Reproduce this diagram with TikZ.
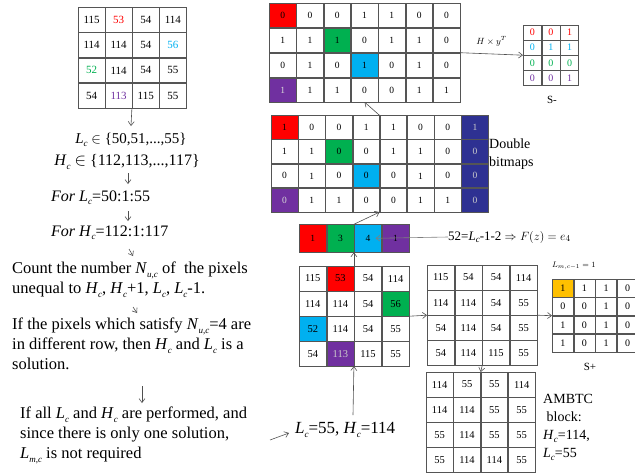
\documentclass[tikz,border=0pt]{standalone}
\usepackage{fontspec}
\setmainfont{Liberation Serif}
\usetikzlibrary{matrix,arrows.meta}
\definecolor{cred}{RGB}{255,0,0}
\definecolor{cgreen}{RGB}{0,176,80}
\definecolor{cblue}{RGB}{0,176,240}
\definecolor{cpurple}{RGB}{112,48,160}
\definecolor{cnavy}{RGB}{46,49,146}
\definecolor{corange}{RGB}{255,192,0}
\definecolor{gridc}{RGB}{85,85,85}
\definecolor{arrc}{RGB}{80,80,80}
\newcommand\vsub[1]{\raisebox{-0.45ex}{\fontsize{9}{9}\selectfont\itshape #1}}
\newcommand\Vv[2]{\textit{#1}\vsub{#2}}
\begin{document}
\begin{tikzpicture}[x=1pt,y=-1pt,
  cellgrid/.style={matrix of nodes, inner sep=0pt, outer sep=0pt, column sep=0pt, row sep=0pt,
    nodes={draw=gridc, line width=0.6pt, inner sep=0pt, outer sep=0pt, anchor=center}},
  arr/.style={draw=arrc, line width=0.6pt, -{Straight Barb[length=4pt,width=6pt]}},
  txt/.style={font=\fontsize{16.5}{20}\selectfont, align=left, inner sep=0pt},
  lbl/.style={inner sep=0pt}]
\useasboundingbox (0,0) rectangle (635,474);

% ---------- grid 1 ----------
\matrix (g1) [cellgrid, anchor=north west, nodes={minimum width=26.5pt, minimum height=24.75pt, font=\fontsize{11}{11}\selectfont}] at (78,7) {
115 & |[text=cred]|53 & 54 & 114 \\
114 & 114 & 54 & |[text=cblue]|56 \\
|[text=cgreen]|52 & 114 & 54 & 55 \\
54 & |[text=cpurple]|113 & 115 & 55 \\
};

% ---------- left column text ----------
\node[txt, font=\fontsize{15}{20}\selectfont] (t1) at (131,140) {\Vv{L}{c} $\in$ \{50,51,...,55\}};
\node[txt, font=\fontsize{16}{20}\selectfont] (t2) at (127,162) {\Vv{H}{c} $\in$ \{112,113,...,117\}};
\node[txt, anchor=west, font=\fontsize{16}{20}\selectfont] (t3) at (51,198) {\textit{For} \Vv{L}{c}=50:1:55};
\node[txt, anchor=west, font=\fontsize{16}{20}\selectfont] (t4) at (51,233) {\textit{For} \Vv{H}{c}=112:1:117};
\node[txt, anchor=north west] (t5) at (12,262) {Count the number \Vv{N}{u,c} of\ \ the pixels\\unequal to \Vv{H}{c}, \Vv{H}{c}+1, \Vv{L}{c}, \Vv{L}{c}-1.};
\node[txt, anchor=north west] (t6) at (12,318) {If the pixels which satisfy \Vv{N}{u,c}=4 are\\in different row, then \Vv{H}{c} and \Vv{L}{c} is a\\solution.};
\node[txt, anchor=north west] (t7) at (20,407) {If all \Vv{L}{c} and \Vv{H}{c} are performed, and\\since there is only one solution,\\\Vv{L}{m,c} is not required};

\coordinate (a1e) at (131,126);
\coordinate (a2s) at (128,173); \coordinate (a2e) at (128,184);
\coordinate (a3s) at (128,211); \coordinate (a3e) at (128,221);
\coordinate (a4s) at (129,249); \coordinate (a4e) at (133,256);
\coordinate (a5s) at (133,307); \coordinate (a5e) at (137,313);
\coordinate (a6s) at (142,386); \coordinate (a6e) at (142,403);
\draw[arr] (g1-4-2.south east) -- (a1e);
\draw[arr] (a2s) -- (a2e);
\draw[arr] (a3s) -- (a3e);
\draw[arr] (a4s) -- (a4e);
\draw[arr] (a5s) -- (a5e);
\draw[arr] (a6s) -- (a6e);

% ---------- top bitmap ----------
\matrix (tb) [cellgrid, anchor=north west, nodes={minimum width=26.7pt, minimum height=24.25pt, font=\fontsize{9.5}{9.5}\selectfont}] at (269,3) {
|[fill=cred]|0 & 0 & 0 & 1 & 1 & 0 & 0 \\
1 & 1 & |[fill=cgreen]|1 & 0 & 1 & 1 & 0 \\
0 & 1 & 0 & |[fill=cblue]|1 & 0 & 1 & 0 \\
|[fill=cpurple,text=white!85!black]|1 & 1 & 1 & 0 & 0 & 1 & 1 \\
};

% ---------- S- ----------
\matrix (sm) [cellgrid, anchor=north west, nodes={minimum width=18pt, minimum height=14.5pt, font=\fontsize{10}{10}\selectfont}] at (523,25) {
|[text=cred]|0 & |[text=cred]|0 & |[text=cred]|1 \\
|[text=cblue]|0 & |[text=cblue]|1 & |[text=cblue]|1 \\
|[text=cgreen]|0 & |[text=cgreen]|0 & |[text=cgreen]|0 \\
|[text=cpurple]|0 & |[text=cpurple]|0 & |[text=cpurple]|1 \\
};
\node[lbl, font=\fontsize{11}{11}\selectfont] (smlab) at (552,100) {S-};
\draw[arr] (tb.east) -- node[above=4pt, font=\fontsize{9}{9}\selectfont] (hy) {$H\times y^T$} (sm.west);

% ---------- double bitmap ----------
\matrix (db) [cellgrid, anchor=north west, nodes={minimum width=26.6pt, minimum height=23.75pt, font=\fontsize{9.5}{9.5}\selectfont}] at (271,115) {
|[fill=cred]|1 & 0 & 0 & 1 & 1 & 0 & 0 & |[fill=cnavy,text=white!80!black]|1 \\
1 & 1 & |[fill=cgreen]|0 & 0 & 1 & 1 & 0 & |[fill=cnavy,text=white!80!black]|0 \\
0 & 1 & 0 & |[fill=cblue]|0 & 0 & 1 & 0 & |[fill=cnavy,text=white!80!black]|0 \\
|[fill=cpurple,text=white!85!black]|0 & 1 & 1 & 0 & 0 & 1 & 1 & |[fill=cnavy,text=white!80!black]|0 \\
};
\node[txt, anchor=west, font=\fontsize{14}{18}\selectfont] (dblab) at (489,154) {Double\\bitmaps};
\draw[arr] (db-1-4.north east) -- (tb-4-4.south);

% ---------- four-cell row ----------
\matrix (r4) [cellgrid, anchor=north west, nodes={minimum width=27pt, minimum height=28pt, font=\fontsize{9.5}{9.5}\selectfont}] at (299,224) {
|[fill=cred]|1 & |[fill=cgreen]|3 & |[fill=cblue]|4 & |[fill=cpurple]|1 \\
};
\node[lbl, anchor=west, font=\fontsize{13}{13}\selectfont] (eq) at (448,237) {52=\Vv{L}{c}-1-2 $\Rightarrow F(z)=e_4$};
\draw[arr, draw=gray] (eq.west) -- ([xshift=-6pt]r4-1-3.east);
\draw[arr] (r4-1-2.north east) -- (db-4-4.south east);

% ---------- grid 2 ----------
\matrix (g2) [cellgrid, anchor=north west, nodes={minimum width=27pt, minimum height=24.5pt, font=\fontsize{10.5}{10.5}\selectfont}] at (299,266) {
115 & |[fill=cred]|53 & 54 & 114 \\
114 & 114 & 54 & |[fill=cgreen]|56 \\
|[fill=cblue]|52 & 114 & 54 & 55 \\
54 & |[fill=cpurple,text=white!80!black]|113 & 115 & 55 \\
};
\draw[arr] (g2-1-2.north east) -- (r4-1-2.south east);

% ---------- grid 3 ----------
\matrix (g3) [cellgrid, anchor=north west, nodes={minimum width=27pt, minimum height=24.5pt, font=\fontsize{10.5}{10.5}\selectfont}] at (427,265) {
115 & 54 & 54 & 114 \\
114 & 114 & 54 & 55 \\
54 & 114 & 54 & 55 \\
54 & 114 & 115 & 55 \\
};
\draw[arr] (g2.east) -- (g3.west);

% ---------- S+ ----------
\matrix (sp) [cellgrid, anchor=north west, nodes={minimum width=21pt, minimum height=17.75pt, font=\fontsize{10}{10}\selectfont}] at (552,279) {
|[fill=corange]|1 & 1 & 1 & 0 \\
0 & 0 & 1 & 0 \\
1 & 0 & 1 & 0 \\
1 & 0 & 1 & 0 \\
};
\node[lbl, anchor=west, font=\fontsize{8}{8}\selectfont] (lm) at (552,266) {$L_{m,c-1}=1$};
\node[lbl, font=\fontsize{11}{11}\selectfont] (splab) at (590,367) {S+};
\draw[arr] (g3.east) -- (sp.west);

% ---------- grid 4 ----------
\matrix (g4) [cellgrid, anchor=north west, nodes={minimum width=26.75pt, minimum height=24.5pt, font=\fontsize{10.5}{10.5}\selectfont}] at (426,372) {
114 & 55 & 55 & 114 \\
114 & 114 & 55 & 55 \\
55 & 114 & 55 & 55 \\
55 & 114 & 114 & 55 \\
};
\draw[arr] (g3.south) -- (g4.north);
\node[txt, anchor=west, font=\fontsize{14}{18}\selectfont] (amb) at (543,427) {AMBTC\\\ block:\\\Vv{H}{c}=114,\\\Vv{L}{c}=55};

% ---------- result label ----------
\node[lbl, anchor=west, font=\fontsize{17}{17}\selectfont] (t8) at (295,430) {\Vv{L}{c}=55, \Vv{H}{c}=114};
\coordinate (t8top) at (353,415);
\draw[arr] (t8top) -- (g2-4-2.south east);
\coordinate (a7s) at (270,440);
\draw[arr] (a7s) -- ([xshift=-6pt,yshift=-3pt]t8.west);
\end{tikzpicture}
\end{document}
